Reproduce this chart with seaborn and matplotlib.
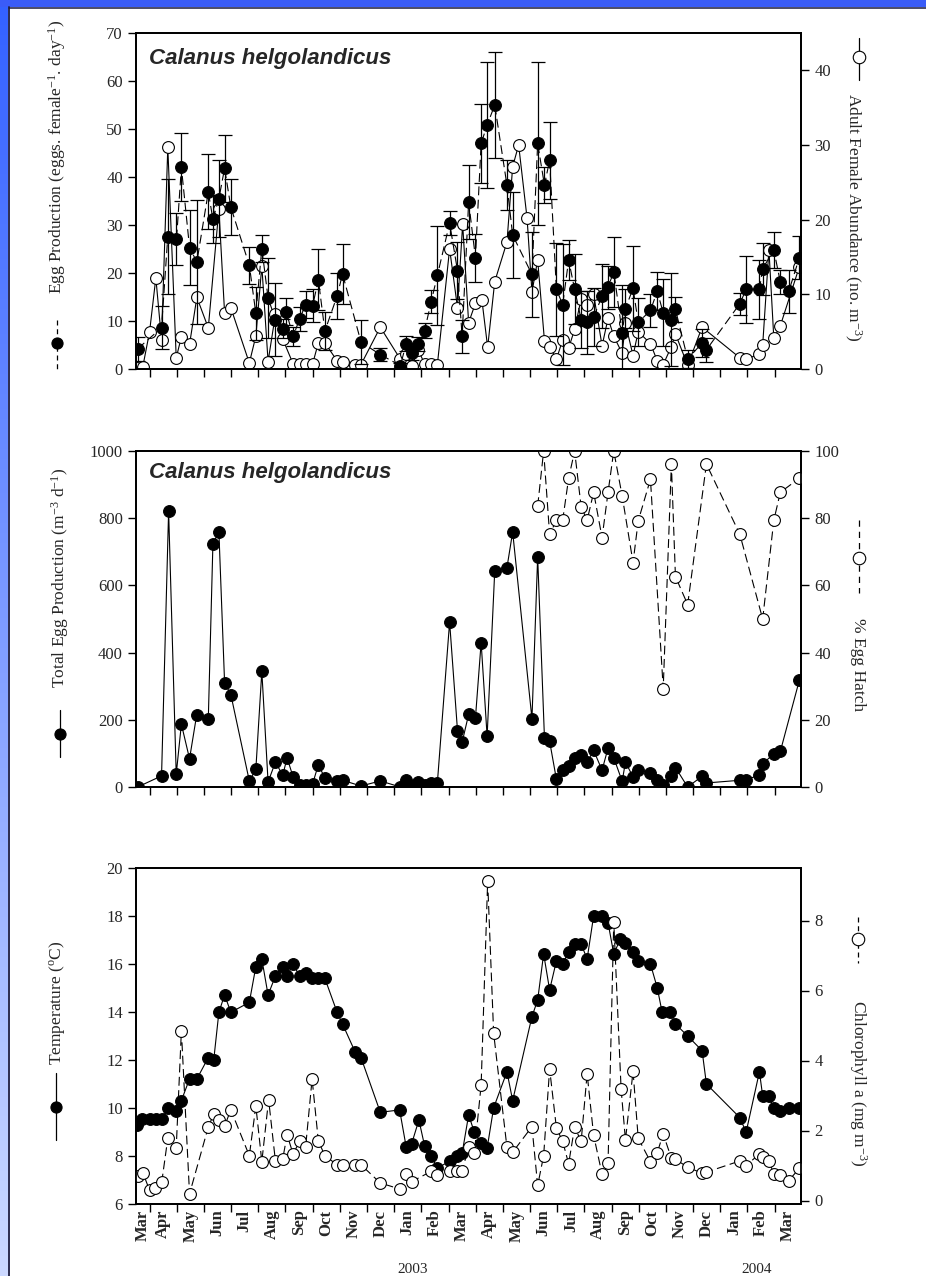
import numpy as np
import matplotlib
matplotlib.use("Agg")
import matplotlib.pyplot as plt
from matplotlib.lines import Line2D
import seaborn as sns

# x positions are months counted from 1 Mar 2002 (1 = 1 Apr 2002, 13 = 1 Mar 2003, 24 = 1 Mar 2004)
month_labels = ["Mar", "Apr", "May", "Jun", "Jul", "Aug", "Sep", "Oct", "Nov", "Dec", "Jan", "Feb",
                "Mar", "Apr", "May", "Jun", "Jul", "Aug", "Sep", "Oct", "Nov", "Dec", "Jan", "Feb", "Mar"]
month_label_pos = [0.75] + [k + 0.5 for k in range(1, 24)] + [24.5]
years = ["2003", "2004"]

# panel 1: egg production (filled) and adult female abundance (open)
egg_m = [0.56, 1.44, 1.67, 1.99, 2.17, 2.47, 2.74, 3.16, 3.33, 3.55,
         3.76, 3.99, 4.67, 4.91, 5.13, 5.36, 5.63, 5.90, 6.03, 6.28,
         6.52, 6.74, 7.00, 7.21, 7.45, 7.90, 8.10, 8.78, 9.49, 10.23,
         10.44, 10.64, 10.89, 11.12, 11.36, 11.59, 12.04, 12.33, 12.50, 12.74,
         12.99, 13.20, 13.42, 13.70, 14.15, 14.36, 15.07, 15.28, 15.53, 15.72,
         15.97, 16.20, 16.42, 16.64, 16.88, 17.10, 17.34, 17.65, 17.87, 18.08,
         18.39, 18.51, 18.79, 18.98, 19.43, 19.68, 19.90, 20.20, 20.35, 20.80,
         21.33, 21.49, 22.72, 22.95, 23.44, 23.56, 23.97, 24.21, 24.52, 24.91]
egg = [4.2, 8.6, 27.6, 27.0, 42.0, 25.3, 22.3, 36.9, 31.2, 35.5,
       41.8, 33.7, 21.6, 11.6, 25.1, 14.8, 10.3, 8.4, 11.9, 6.8,
       10.4, 13.4, 13.2, 18.6, 7.9, 15.2, 19.8, 5.6, 3.0, 0.7,
       5.3, 3.3, 5.2, 8.0, 14.0, 19.5, 30.4, 20.5, 6.8, 34.8,
       23.2, 47.0, 50.8, 55.0, 38.3, 27.9, 19.7, 47.0, 38.3, 43.5,
       16.6, 13.4, 22.7, 16.6, 10.3, 9.7, 10.8, 15.2, 17.0, 20.3,
       7.5, 12.6, 16.8, 9.7, 12.2, 16.2, 11.7, 10.3, 12.4, 2.1,
       5.4, 4.0, 13.6, 16.6, 16.6, 20.9, 24.8, 18.1, 16.2, 23.2]
egg_err = [2.5, 4.5, 12.0, 5.4, 7.1, 7.8, 12.9, 7.8, 5.0, 8.0,
           7.0, 5.8, 3.9, 5.5, 2.8, 8.4, 7.6, 2.0, 2.8, 2.0,
           2.5, 2.8, 3.5, 6.3, 4.0, 4.8, 6.3, 4.6, 1.4, 0.5,
           1.5, 1.5, 1.5, 1.5, 2.4, 10.3, 2.5, 6.0, 3.4, 7.7,
           5.0, 8.2, 13.1, 11.0, 5.2, 9.0, 8.9, 17.0, 3.8, 8.0,
           9.7, 12.6, 4.1, 7.3, 5.9, 6.5, 6.1, 6.6, 4.5, 7.3,
           10.0, 4.0, 8.9, 5.0, 3.5, 4.0, 7.0, 9.7, 2.6, 1.9,
           3.0, 2.5, 2.3, 7.0, 6.2, 5.4, 3.8, 2.5, 4.5, 4.5]

fem_m = [0.53, 0.75, 1.00, 1.23, 1.44, 1.67, 1.98, 2.17, 2.47, 2.74,
         3.16, 3.55, 3.76, 3.99, 4.67, 4.91, 5.13, 5.36, 5.63, 5.90,
         6.28, 6.52, 6.74, 7.00, 7.21, 7.45, 7.90, 8.10, 8.57, 8.78,
         9.49, 10.23, 10.44, 10.64, 10.89, 11.12, 11.36, 11.59, 12.04, 12.33,
         12.52, 12.74, 12.99, 13.23, 13.44, 13.70, 14.15, 14.36, 14.58, 14.89,
         15.07, 15.28, 15.53, 15.72, 15.97, 16.20, 16.42, 16.64, 16.88, 17.10,
         17.34, 17.65, 17.87, 18.08, 18.39, 18.51, 18.79, 18.98, 19.43, 19.68,
         19.90, 20.20, 20.35, 20.80, 21.33, 22.72, 22.95, 23.44, 23.56, 23.79,
         23.97, 24.21, 24.91]
fem = [0.2, 0.3, 5.0, 12.2, 3.9, 29.7, 1.5, 4.3, 3.3, 9.6,
       5.5, 21.4, 7.5, 8.2, 0.8, 4.4, 13.8, 1.0, 7.3, 4.0,
       0.7, 0.7, 0.7, 0.7, 3.5, 3.5, 1.1, 0.9, 0.6, 0.6,
       5.6, 1.3, 2.0, 0.4, 2.5, 0.7, 0.7, 0.6, 16.1, 8.2,
       19.4, 6.2, 8.8, 9.2, 2.9, 11.7, 17.0, 27.1, 30.0, 20.2,
       10.3, 14.6, 3.8, 3.0, 1.3, 3.9, 2.8, 5.3, 9.4, 8.6,
       10.0, 3.1, 6.8, 4.4, 2.1, 6.1, 1.8, 5.0, 3.4, 1.1,
       0.6, 3.0, 4.7, 0.5, 5.6, 1.5, 1.3, 2.0, 3.2, 16.0,
       4.1, 5.8, 13.7]

# panel 2: total egg production (filled) and % egg hatch (open)
tep_m = [0.56, 1.44, 1.70, 1.98, 2.17, 2.47, 2.73, 3.16, 3.33, 3.55,
         3.76, 3.99, 4.67, 4.91, 5.13, 5.36, 5.63, 5.90, 6.06, 6.28,
         6.52, 6.74, 7.00, 7.21, 7.45, 7.90, 8.10, 8.78, 9.49, 10.23,
         10.44, 10.64, 10.89, 11.12, 11.36, 11.59, 12.04, 12.33, 12.50, 12.74,
         12.99, 13.20, 13.42, 13.70, 14.15, 14.36, 15.07, 15.28, 15.53, 15.72,
         15.97, 16.20, 16.42, 16.64, 16.88, 17.10, 17.34, 17.65, 17.87, 18.08,
         18.39, 18.51, 18.79, 18.98, 19.43, 19.68, 19.90, 20.20, 20.35, 20.80,
         21.33, 21.49, 22.72, 22.95, 23.44, 23.56, 23.97, 24.21, 24.91]
tep = [0, 33, 821, 38, 187, 84, 213, 201, 723, 760,
       310, 275, 18, 53, 344, 15, 74, 35, 87, 30,
       7, 7, 10, 66, 27, 18, 20, 3, 18, 0,
       22, 3, 15, 5, 13, 13, 491, 168, 133, 216,
       205, 430, 151, 642, 653, 759, 203, 685, 146, 136,
       23, 52, 63, 87, 96, 74, 109, 50, 116, 87,
       17, 74, 30, 50, 43, 20, 5, 32, 58, 0,
       32, 12, 20, 22, 35, 69, 99, 106, 318]

hatch_m = [15.28, 15.50, 15.72, 15.97, 16.20, 16.42, 16.64, 16.88, 17.10, 17.34,
           17.65, 17.87, 18.08, 18.39, 18.79, 18.98, 19.43, 19.90, 20.20, 20.35,
           20.80, 21.49, 22.72, 23.56, 23.97, 24.21, 24.91]
hatch = [83.6, 100, 75.2, 79.4, 79.4, 91.9, 100, 83.4, 79.4, 87.7,
         74.2, 87.7, 100, 86.6, 66.8, 79.2, 91.6, 29.3, 96.1, 62.6,
         54.3, 96.1, 75.2, 50.0, 79.4, 87.7, 91.9]

# panel 3: temperature (filled) and chlorophyll a (open)
temp_m = [0.53, 0.72, 1.00, 1.23, 1.45, 1.67, 1.98, 2.17, 2.47, 2.74,
          3.16, 3.36, 3.55, 3.76, 3.99, 4.67, 4.91, 5.13, 5.36, 5.63,
          5.90, 6.06, 6.28, 6.52, 6.74, 6.96, 7.21, 7.45, 7.90, 8.10,
          8.57, 8.78, 9.49, 10.20, 10.44, 10.64, 10.91, 11.12, 11.36, 11.59,
          12.04, 12.31, 12.50, 12.74, 12.95, 13.20, 13.42, 13.66, 14.15, 14.36,
          15.07, 15.28, 15.50, 15.72, 15.97, 16.20, 16.42, 16.64, 16.88, 17.10,
          17.34, 17.65, 17.87, 18.08, 18.32, 18.51, 18.79, 18.98, 19.43, 19.68,
          19.86, 20.16, 20.35, 20.80, 21.33, 21.49, 22.72, 22.95, 23.44, 23.56,
          23.79, 23.97, 24.21, 24.52, 24.91]
temp = [9.29, 9.53, 9.53, 9.53, 9.53, 9.99, 9.89, 10.31, 11.21, 11.21,
        12.10, 12.00, 13.99, 14.71, 13.99, 14.40, 15.89, 16.21, 14.71, 15.50,
        15.89, 15.50, 15.99, 15.50, 15.61, 15.40, 15.40, 15.40, 13.99, 13.50,
        12.32, 12.10, 9.82, 9.92, 8.39, 8.50, 9.50, 8.42, 8.00, 7.49,
        7.79, 8.00, 8.11, 9.71, 8.99, 8.53, 8.32, 10.01, 11.51, 10.31,
        13.81, 14.50, 16.42, 14.92, 16.13, 16.00, 16.51, 16.83, 16.83, 16.21,
        18.01, 18.01, 17.72, 16.42, 17.03, 16.86, 16.51, 16.13, 16.00, 15.01,
        13.99, 13.99, 13.50, 13.00, 12.39, 11.00, 9.60, 8.99, 11.51, 10.50,
        10.50, 9.99, 9.89, 9.99, 9.99]

chl_m = [0.56, 0.75, 1.00, 1.21, 1.45, 1.67, 1.98, 2.17, 2.47, 3.16,
         3.36, 3.55, 3.76, 3.99, 4.67, 4.91, 5.13, 5.38, 5.63, 5.90,
         6.06, 6.28, 6.52, 6.74, 6.98, 7.21, 7.45, 7.90, 8.10, 8.57,
         8.78, 9.49, 10.20, 10.44, 10.64, 11.36, 11.59, 12.04, 12.30, 12.50,
         12.74, 12.95, 13.20, 13.44, 13.66, 14.15, 14.36, 15.07, 15.28, 15.50,
         15.72, 15.97, 16.20, 16.42, 16.64, 16.88, 17.10, 17.34, 17.65, 17.87,
         18.08, 18.35, 18.51, 18.79, 18.98, 19.43, 19.68, 19.90, 20.20, 20.35,
         20.80, 21.33, 21.49, 22.72, 22.95, 23.44, 23.56, 23.79, 23.97, 24.21,
         24.52, 24.91]
chl = [0.69, 0.80, 0.29, 0.35, 0.54, 1.78, 1.50, 4.85, 0.19, 2.10,
       2.47, 2.29, 2.13, 2.59, 1.28, 2.70, 1.11, 2.88, 1.13, 1.19,
       1.88, 1.33, 1.69, 1.52, 3.47, 1.70, 1.28, 1.02, 1.02, 1.02,
       1.02, 0.50, 0.33, 0.75, 0.54, 0.83, 0.73, 0.85, 0.83, 0.83,
       1.54, 1.37, 3.30, 9.13, 4.78, 1.52, 1.38, 2.11, 0.43, 1.28,
       3.76, 2.07, 1.69, 1.05, 2.10, 1.69, 3.62, 1.86, 0.75, 1.07,
       7.97, 3.19, 1.73, 3.69, 1.78, 1.11, 1.37, 1.90, 1.21, 1.18,
       0.95, 0.78, 0.81, 1.13, 1.00, 1.33, 1.23, 1.13, 0.76, 0.73,
       0.57, 0.92]

W, H = 926, 1276
DASH = (0, (8, 4))

sns.set_style("ticks")
plt.rcParams["font.family"] = ["Liberation Serif", "DejaVu Serif"]
plt.rcParams["mathtext.default"] = "regular"

fig = plt.figure(figsize=(W / 100, H / 100), dpi=100, facecolor="white")

# blue slide frame: gradient strip on the left, band on top
bg = fig.add_axes([0, 0, 1, 1], zorder=-10)
grad = np.linspace(0, 1, 256)[:, None]
cols = np.array([0.20, 0.38, 1.0]) * (1 - grad) + np.array([0.80, 0.85, 1.0]) * grad
bg.imshow(cols[:, None, :].repeat(2, axis=1), extent=[0, 8 / W, 0, 1], aspect="auto", origin="upper")
bg.add_patch(plt.Rectangle((0, 1 - 7 / H), 1, 7 / H, color="#3a5cf8", lw=0))
bg.plot([8.7 / W, 8.7 / W], [0, 1 - 7 / H], color="#1a1a40", lw=1.3)
bg.plot([8.7 / W, 1], [1 - 7.6 / H, 1 - 7.6 / H], color="#1a1a40", lw=1.1)
bg.set_xlim(0, 1)
bg.set_ylim(0, 1)
bg.axis("off")


def px_axes(top, bottom, left=136, right=801):
    return fig.add_axes([left / W, 1 - bottom / H, (right - left) / W, (bottom - top) / H])


def style_ax(ax, last=False):
    ax.set_xlim(0.5, 24.97)
    ax.set_xticks(range(1, 25))
    ax.set_xticklabels([])
    ax.tick_params(axis="both", direction="out", length=6, width=1.0, labelsize=12, color="black")
    for s in ax.spines.values():
        s.set_linewidth(1.3)
        s.set_color("black")
    if last:
        ax.set_xticks(month_label_pos, minor=True)
        ax.set_xticklabels(month_labels, minor=True, rotation=90, fontsize=12, fontweight="bold")
        ax.tick_params(axis="x", which="minor", length=0, pad=4)


def filled_line(ax, x, y, ls):
    sns.lineplot(x=x, y=y, ax=ax, color="black", linewidth=0.8, linestyle=ls, marker="o",
                 markersize=8.5, markerfacecolor="black", markeredgecolor="black",
                 estimator=None, sort=False)


def open_line(ax, x, y, ls):
    sns.lineplot(x=x, y=y, ax=ax, color="black", linewidth=0.8, linestyle=ls, marker="o",
                 markersize=8.5, markerfacecolor="white", markeredgecolor="black",
                 markeredgewidth=0.8, estimator=None, sort=False)


def key(x, y0, y1, yc, filled, ls):
    fig.add_artist(Line2D([x / W, x / W], [1 - y0 / H, 1 - y1 / H], color="black", lw=0.9, ls=ls))
    fig.add_artist(Line2D([x / W], [1 - yc / H], marker="o", markersize=8 if filled else 9,
                          markerfacecolor="black" if filled else "white",
                          markeredgecolor="black", markeredgewidth=0.8, ls="none"))


title_kw = dict(fontsize=16, fontweight="bold", style="italic", family=["Liberation Sans"])

# ---- panel 1
ax1 = px_axes(33, 369)
ax1b = ax1.twinx()
ax1.errorbar(egg_m, egg, yerr=egg_err, fmt="none", ecolor="black", elinewidth=0.9,
             capsize=5, capthick=0.9)
open_line(ax1b, fem_m, fem, "-")
filled_line(ax1, egg_m, egg, DASH)
ax1.set_zorder(ax1b.get_zorder() + 1)
ax1.patch.set_visible(False)
ax1.set_ylim(0, 70)
ax1.set_yticks(range(0, 71, 10))
ax1b.set_ylim(0, 45)
ax1b.set_yticks(range(0, 41, 10))
style_ax(ax1)
style_ax(ax1b)
ax1.text(0.02, 0.925, "Calanus helgolandicus", transform=ax1.transAxes, va="center", **title_kw)

# ---- panel 2
ax2 = px_axes(451, 787)
ax2b = ax2.twinx()
filled_line(ax2, tep_m, tep, "-")
open_line(ax2b, hatch_m, hatch, DASH)
ax2.set_ylim(0, 1000)
ax2.set_yticks(range(0, 1001, 200))
ax2b.set_ylim(0, 100)
ax2b.set_yticks(range(0, 101, 20))
style_ax(ax2)
style_ax(ax2b)
ax2b.text(0.02, 0.935, "Calanus helgolandicus", transform=ax2.transAxes, va="center", **title_kw)

# ---- panel 3
ax3 = px_axes(868, 1204)
ax3b = ax3.twinx()
filled_line(ax3, temp_m, temp, "-")
open_line(ax3b, chl_m, chl, DASH)
ax3.set_ylim(6, 20)
ax3.set_yticks(range(6, 21, 2))
ax3b.set_ylim(-0.1, 9.5)
ax3b.set_yticks(range(0, 9, 2))
style_ax(ax3, last=True)
style_ax(ax3b)

for a in (ax1, ax1b, ax2, ax2b, ax3, ax3b):
    a.set_xlabel("")
    a.set_ylabel("")

# axis titles with their symbol keys
lab = dict(fontsize=12.5, ha="center", va="center")
fig.text(57 / W, 1 - 157 / H, "Egg Production (eggs. female$^{-1}$. day$^{-1}$)", rotation=90, **lab)
key(57, 320, 370, 343, True, (0, (4, 3)))
fig.text(853 / W, 1 - 217 / H, "Adult Female Abundance (no. m$^{-3}$)", rotation=270, **lab)
key(859, 38, 80, 57, False, "-")

fig.text(60 / W, 1 - 578 / H, "Total Egg Production (m$^{-3}$ d$^{-1}$)", rotation=90, **lab)
key(60, 710, 757, 734, True, "-")
fig.text(858 / W, 1 - 665 / H, "% Egg Hatch", rotation=270, **lab)
key(859, 520, 593, 558, False, (0, (5, 4)))

fig.text(57 / W, 1 - 1003 / H, "Temperature ($^{o}$C)", rotation=90, **lab)
key(56, 1073, 1140, 1107, True, "-")
fig.text(858 / W, 1 - 1083 / H, "Chlorophyll a (mg m$^{-3}$)", rotation=270, **lab)
key(858, 917, 963, 939, False, (0, (4, 3)))

fig.text(413 / W, 1 - 1263 / H, years[0], fontsize=11, ha="center", va="top")
fig.text(757 / W, 1 - 1263 / H, years[1], fontsize=11, ha="center", va="top")

fig.savefig("out.png", dpi=100, facecolor="white")
